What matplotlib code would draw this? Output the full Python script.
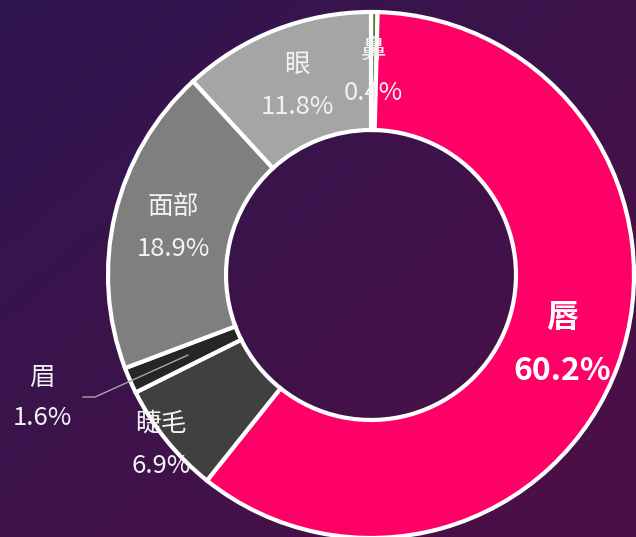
import numpy as np
import matplotlib.pyplot as plt

plt.rcParams['font.family'] = ['Noto Sans CJK SC', 'DejaVu Sans']

# data (clockwise from 12 o'clock)
parts = ['鼻', '唇', '睫毛', '眉', '面部', '眼']
shares = [0.4, 60.2, 6.9, 1.6, 18.9, 11.8]
colors = ['#548235', '#ff0066', '#404040', '#262626', '#7f7f7f', '#a5a5a5']

W, H = 636, 537
cx, cy = 371, H - 275
r_out, r_in = 263, 145

fig = plt.figure(figsize=(W / 100, H / 100), dpi=100)
ax = fig.add_axes([0, 0, 1, 1])
ax.set_xlim(0, W)
ax.set_ylim(0, H)
ax.set_aspect('equal')
ax.axis('off')

# background gradient, dark indigo top-left to plum bottom-right
c0 = np.array([0x2f, 0x16, 0x50]) / 255
c1 = np.array([0x4d, 0x0f, 0x45]) / 255
gx, gy = np.meshgrid(np.linspace(0, 1, 200), np.linspace(0, 1, 200))
t = (gx + gy) / 2
img = c0 + (c1 - c0) * t[..., None]
ax.imshow(img, extent=(0, W, 0, H), origin='upper', zorder=0, aspect='auto')

wedges, _ = ax.pie(shares, colors=colors, startangle=90, counterclock=False,
                   center=(cx, cy), radius=r_out, frame=True,
                   wedgeprops=dict(width=r_out - r_in, edgecolor='white', linewidth=3))
ax.set_xlim(0, W)
ax.set_ylim(0, H)
ax.axis('off')

txt = '#f2f2f2'
total = sum(shares)
cum = 0
for name, v, w in zip(parts, shares, wedges):
    mid = (cum + v / 2) / total * 360
    cum += v
    a = np.deg2rad(90 - mid)
    pct = f'{v:.1f}%'
    if name == '眉':
        # outside label with leader line
        sx, sy = cx + 200 * np.cos(a), cy + 200 * np.sin(a)
        ax.plot([sx, 95, 83], [sy, H - 397, H - 397], color='#a6a6a6', lw=1, zorder=5)
        lx, ly = 42, H - 398
        ax.text(lx, ly + 20, name, color=txt, fontsize=18.5, ha='center', va='center', zorder=6)
        ax.text(lx, ly - 20, pct, color=txt, fontsize=18.5, ha='center', va='center', zorder=6)
        continue
    r = 270 if name == '睫毛' else 203
    lx, ly = cx + r * np.cos(a), cy + r * np.sin(a)
    if name == '唇':
        ax.text(lx, ly + 27, name, color='white', fontsize=23, fontweight='bold',
                ha='center', va='center', zorder=6)
        ax.text(lx, ly - 27, pct, color='white', fontsize=23, fontweight='bold',
                ha='center', va='center', zorder=6)
    else:
        ax.text(lx, ly + 21, name, color=txt, fontsize=18.5, ha='center', va='center', zorder=6)
        ax.text(lx, ly - 21, pct, color=txt, fontsize=18.5, ha='center', va='center', zorder=6)

fig.savefig('out.png', dpi=100)
